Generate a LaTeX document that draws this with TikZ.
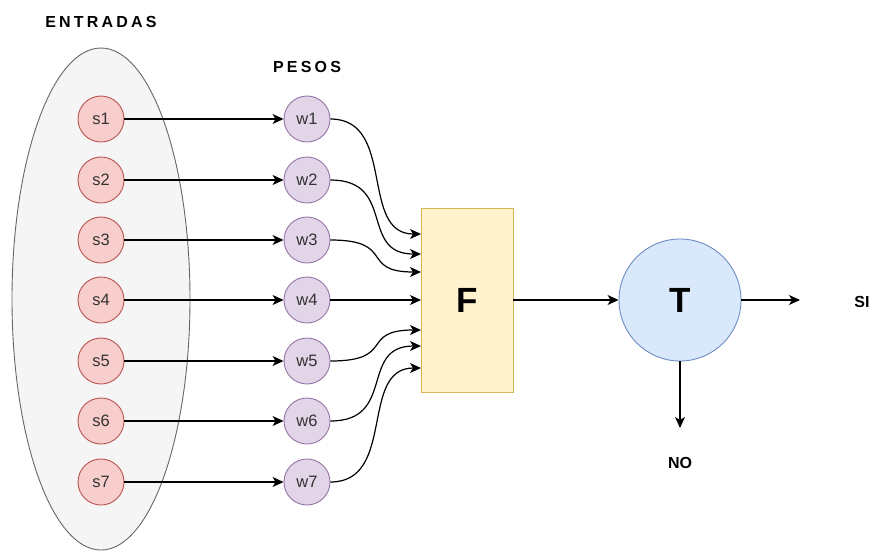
\documentclass[tikz,border=0pt]{standalone}
\usepackage{fontspec}
\setmainfont{Liberation Sans}
\usetikzlibrary{arrows.meta}
\definecolor{sfill}{HTML}{F8CECC}
\definecolor{sdraw}{HTML}{B85450}
\definecolor{wfill}{HTML}{E1D5E7}
\definecolor{wdraw}{HTML}{9673A6}
\definecolor{ffill}{HTML}{FFF2CC}
\definecolor{fdraw}{HTML}{D6B656}
\definecolor{tfill}{HTML}{DAE8FC}
\definecolor{tdraw}{HTML}{6C8EBF}
\definecolor{efill}{HTML}{F5F5F5}
\definecolor{edraw}{HTML}{666666}
\definecolor{txt}{HTML}{333333}
\tikzset{
  snode/.style={circle, draw=sdraw, fill=sfill, line width=0.9pt, minimum size=46pt, inner sep=0pt, text=txt, font=\fontsize{16.5}{18}\selectfont},
  wnode/.style={circle, draw=wdraw, fill=wfill, line width=0.9pt, minimum size=46pt, inner sep=0pt, text=txt, font=\fontsize{16.5}{18}\selectfont},
  title/.style={font=\fontsize{16}{18}\selectfont\bfseries\addfontfeature{LetterSpace=20}},
  conn/.style={line width=1.2pt, -{Stealth[length=11pt,width=10pt,inset=3pt]}},
}
\begin{document}
\begin{tikzpicture}[x=1pt,y=-1pt]
\useasboundingbox (0,0) rectangle (875,550);
% ellipse group
\draw[draw=edraw, fill=efill, line width=0.9pt] (101,299) ellipse [x radius=89, y radius=251];
\node[title] (ent) at (101,22) {ENTRADAS};
\node[title] (pes) at (307,67) {PESOS};
% F and T
\node[draw=fdraw, fill=ffill, line width=0.9pt, minimum width=92pt, minimum height=184pt, inner sep=0pt, font=\fontsize{35}{40}\selectfont\bfseries] (F) at (467,300) {F};
\node[circle, draw=tdraw, fill=tfill, line width=0.9pt, minimum size=122pt, inner sep=0pt, font=\fontsize{35}{40}\selectfont\bfseries] (T) at (680,300) {T};
\foreach \i/\ys/\yf in {1/119/234, 2/180/254, 3/240/272, 4/300/300, 5/361/330, 6/421/346, 7/482/368} {
  \node[snode] (s\i) at (101,\ys) {s\i};
  \node[wnode] (w\i) at (307,\ys) {w\i};
  \coordinate (f\i) at (421,\yf);
  \draw[conn] (s\i) -- (w\i);
}
\foreach \i in {1,2,3,5,6,7} {
  \draw[conn] (w\i.east) .. controls ([xshift=66pt]w\i.east) and ([xshift=-62pt]f\i) .. (f\i);
}
\draw[conn] (w4) -- (f4);
\draw[conn] (F) -- (T);
\coordinate (siend) at (800,300);
\coordinate (noend) at (680,428);
\draw[conn] (T) -- (siend);
\draw[conn] (T) -- (noend);
\node[font=\fontsize{16}{18}\selectfont\bfseries] (si) at (862,302) {SI};
\node[font=\fontsize{16}{18}\selectfont\bfseries] (no) at (680,463) {NO};
\end{tikzpicture}
\end{document}
